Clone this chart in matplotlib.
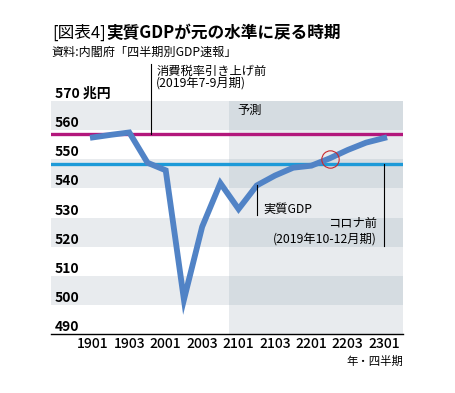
import matplotlib
matplotlib.use('Agg')
import matplotlib.pyplot as plt

plt.rcParams['font.family'] = ['Noto Sans CJK JP', 'DejaVu Sans']

# ---- data ----
quarters = ['1901', '1902', '1903', '1904', '2001', '2002', '2003', '2004',
            '2101', '2102', '2103', '2104', '2201', '2202', '2203', '2204', '2301']
gdp = [557.5, 558.4, 559.2, 548.8, 546.2, 501.8, 526.8, 541.8,
       532.9, 541.0, 544.4, 547.1, 547.8, 550.3, 553.2, 555.7, 557.3]
pre_tax_level = 558.8      # 2019年7-9月期
pre_covid_level = 548.4    # 2019年10-12月期
crossing_quarter = '2202'
crossing_value = 550.0
tick_labels = ['1901', '1903', '2001', '2003', '2101', '2103', '2201', '2203', '2301']
y_values = [490, 500, 510, 520, 530, 540, 550, 560, 570]
forecast_from = 7.5        # between 2004 and 2101

W, H = 456, 393
fig = plt.figure(figsize=(W / 100, H / 100), dpi=100)
ax = fig.add_axes([51 / W, 1 - 334 / H, 352 / W, 233 / H])
x = list(range(len(quarters)))
x0, x1 = -2.3, 17.03
ax.set_xlim(x0, x1)
ax.set_ylim(490, 570)

# bands
left_cols = ['#ffffff', '#e8ebee']
fc_cols = ['#e8ebee', '#d5dce1']
for i, lo in enumerate(y_values[:-1]):
    ax.fill_between([x0, forecast_from], lo, lo + 10, color=left_cols[i % 2], lw=0, zorder=0)
    ax.fill_between([forecast_from, x1], lo, lo + 10, color=fc_cols[i % 2], lw=0, zorder=0)

ax.axhline(pre_tax_level, color='#b3177c', lw=2.4, zorder=2)
ax.axhline(pre_covid_level, color='#1d9ad8', lw=2.4, zorder=2)
ax.plot(x, gdp, color='#5183c6', lw=4.2, solid_joinstyle='miter', zorder=3)
ax.plot([quarters.index(crossing_quarter)], [crossing_value], marker='o', ms=12.5,
        mfc='none', mec='#c8282e', mew=0.8, zorder=4)

# annotation leader lines
ax.plot([3.2, 3.2], [pre_tax_level, 582.7], color='black', lw=0.8, clip_on=False, zorder=4)
ax.plot([9, 9], [541.0, 530.9], color='black', lw=0.8, zorder=4)
ax.plot([16, 16], [pre_covid_level, 520.2], color='black', lw=0.8, zorder=4)

afs = 8.8
ax.text(3.5, 580.3, '消費税率引き上げ前', fontsize=afs, va='center', ha='left')
ax.text(3.45, 576.1, '(2019年7-9月期)', fontsize=afs, va='center', ha='left')
ax.text(7.95, 566.6, '予測', fontsize=afs, va='center', ha='left')
ax.text(9.34, 532.6, '実質GDP', fontsize=afs, va='center', ha='left')
ax.text(15.6, 527.8, 'コロナ前', fontsize=afs, va='center', ha='right')
ax.text(15.6, 522.5, '(2019年10-12月期)', fontsize=afs, va='center', ha='right')

# y labels
for v in y_values:
    lab = f'{v} 兆円' if v == y_values[-1] else f'{v}'
    ax.text(-2.1, v + 2.4, lab, fontsize=10, fontweight='bold', va='center', ha='left',
            clip_on=False)
ax.set_yticks([])

ax.set_xticks([quarters.index(t) for t in tick_labels])
ax.set_xticklabels(tick_labels, fontsize=10, fontweight='medium')
ax.tick_params(axis='x', length=0, pad=2.5)
for s in ['top', 'left', 'right']:
    ax.spines[s].set_visible(False)
ax.spines['bottom'].set_color('black')
ax.spines['bottom'].set_linewidth(1.0)

fig.text(403 / W, 1 - 361 / H, '年・四半期', fontsize=8.2, ha='right', va='center')

# titles
t1 = fig.text(52 / W, 1 - 33 / H, '[図表4]', fontsize=12, ha='left', va='center')
fig.canvas.draw()
bb = t1.get_window_extent()
fig.text(bb.x1 / W + 1 / W, 1 - 33 / H, '実質GDPが元の水準に戻る時期', fontsize=12,
         fontweight='bold', ha='left', va='center')
fig.text(52 / W, 1 - 52 / H, '資料:内閣府「四半期別GDP速報」', fontsize=8.7, ha='left', va='center')

fig.savefig('out.png', dpi=100)
